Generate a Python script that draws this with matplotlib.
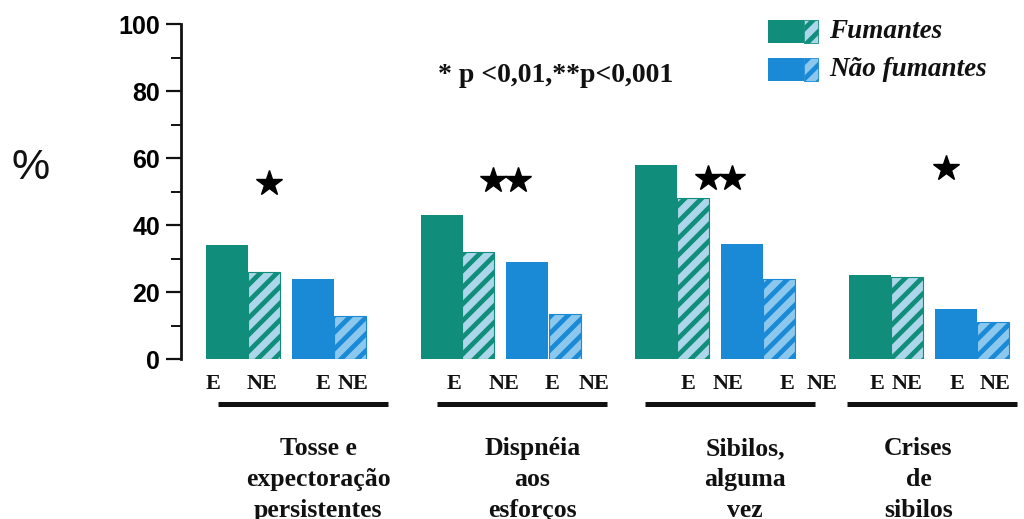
import matplotlib
matplotlib.use("Agg")
import matplotlib.pyplot as plt
from matplotlib.patches import Rectangle
import numpy as np

# Symptom groups and prevalence (%) by smoking status and exposure (E / NE)
categories = ["Tosse e\nexpectoração\npersistentes",
              "Dispnéia\naos\nesforços",
              "Sibilos,\nalguma\nvez",
              "Crises\nde\nsibilos"]
fumantes_e = [34, 43, 58, 25]
fumantes_ne = [26, 32, 48, 24.5]
nao_fumantes_e = [24, 29, 34.5, 15]
nao_fumantes_ne = [13, 13.5, 24, 11]
signif_stars = [1, 2, 2, 1]
star_height = [52.6, 53.5, 54, 57]
sub_labels = ["E", "NE", "E", "NE"]
legend_labels = ["Fumantes", "Não fumantes"]
yticks = [0, 20, 40, 60, 80, 100]
note = "* p <0,01,**p<0,001"

GREEN = "#108e7b"
BLUE = "#1a8ad6"
LIGHT_G = "#acd6ea"
LIGHT_B = "#8cc8ee"

plt.rcParams["hatch.linewidth"] = 3.4

W, H = 1024, 519
fig = plt.figure(figsize=(W / 100, H / 100), dpi=100)

# main axes: x in pixel-like units starting at the y-axis line
ax_left, ax_right, y0_px, y100_px = 181, 1015, 359.3, 24
ax = fig.add_axes([ax_left / W, 1 - y0_px / H,
                   (ax_right - ax_left) / W, (y0_px - y100_px) / H])
ax.set_xlim(0, ax_right - ax_left)
ax.set_ylim(0, 100)

n = len(categories)
step = 214.5
base = 25 + step * np.arange(n)
wF, wNE = 42, 32

# bars
ax.bar(base, fumantes_e, width=wF, align="edge", color=GREEN, linewidth=0)
ax.bar(base + wF, fumantes_ne, width=wNE, align="edge", facecolor=LIGHT_G,
       edgecolor=GREEN, linewidth=0.8, hatch="//")
ax.bar(base + 86, nao_fumantes_e, width=wF, align="edge", color=BLUE, linewidth=0)
ax.bar(base + 86 + wF, nao_fumantes_ne, width=wNE, align="edge", facecolor=LIGHT_B,
       edgecolor=BLUE, linewidth=0.8, hatch="//")

# significance stars
for i in range(n):
    cx = base[i] + [63, 85, 85, 97][i]
    k = signif_stars[i]
    xs = cx + 24 * (np.arange(k) - (k - 1) / 2)
    ax.plot(xs, [star_height[i]] * k, linestyle="none", marker="*",
            markersize=19, color="black", clip_on=False)

# axis styling
for s in ["top", "right", "bottom"]:
    ax.spines[s].set_visible(False)
ax.spines["left"].set_linewidth(2)
ax.spines["left"].set_color("#111111")
ax.set_yticks(yticks)
ax.set_yticks(np.arange(10, 100, 20), minor=True)
ax.tick_params(axis="y", which="major", length=11, width=1.6, pad=4,
               labelsize=18, color="#111111")
ax.tick_params(axis="y", which="minor", length=7, width=1.4, color="#111111")
for lab in ax.get_yticklabels():
    lab.set_fontfamily("Liberation Sans")
    lab.set_fontweight("bold")
ax.set_xticks([])

# sub labels, underline and category names below each group
sub_off = [[7, 56, 117, 147],
           [34, 84, 132, 174],
           [53, 93, 152, 187],
           [28, 58, 108, 146]]
line_off = [12, 16, 10, -2]
name_off = [112, 112, 110, 69]
serif_b = dict(family="Liberation Serif", weight="bold", color="#111111")
for i in range(n):
    for j, lab in enumerate(sub_labels):
        ax.text(base[i] + sub_off[i][j], -7.4, lab, ha="center",
                va="center", fontsize=16, clip_on=False, **serif_b)
    ax.plot([base[i] + line_off[i], base[i] + line_off[i] + 170], [-13.3, -13.3],
            color="#111111", linewidth=3.6, solid_capstyle="butt", clip_on=False)
    ax.text(base[i] + name_off[i], -23.2, categories[i], ha="center", va="top",
            fontsize=18.5, linespacing=1.45, clip_on=False, **serif_b)

# overlay axes in pixel coordinates for legend and notes
ov = fig.add_axes([0, 0, 1, 1])
ov.set_xlim(0, W)
ov.set_ylim(H, 0)
ov.axis("off")
ov.patch.set_alpha(0)

ov.text(31, 168, "%", ha="center", va="center", fontsize=31,
        family="Liberation Sans", color="#111111")
ov.text(438, 76, note, ha="left", va="center", fontsize=20, **serif_b)

for k, (dark, light, ytop) in enumerate([(GREEN, LIGHT_G, 20), (BLUE, LIGHT_B, 58)]):
    ov.add_patch(Rectangle((768, ytop), 36, 23, facecolor=dark, linewidth=0))
    ov.add_patch(Rectangle((804, ytop), 14, 23, facecolor=light, edgecolor=dark,
                           linewidth=0.6, hatch="//"))
    ov.text(829, ytop + 12, legend_labels[k], ha="left", va="center",
            fontsize=19.5, family="Liberation Serif", weight="bold",
            style="italic", color="#111111")

fig.savefig("out.png", dpi=100, facecolor="white")
